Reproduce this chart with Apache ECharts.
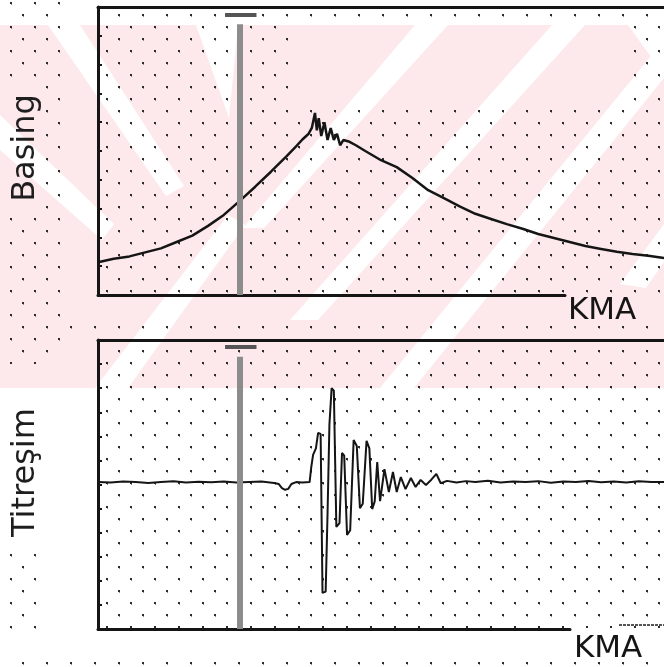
<!DOCTYPE html>
<html>
<head>
<meta charset="utf-8">
<script src="https://cdn.jsdelivr.net/npm/echarts@6/dist/echarts.min.js"></script>
<style>
  html, body { margin: 0; padding: 0; background: #ffffff; }
  #chart { width: 664px; height: 667px; }
</style>
</head>
<body>
<div id="chart"></div>
<script>
// Crank angle (KMA, degrees) and cylinder pressure (bar)
const pressureKMA = [-60, -55, -50, -45, -40, -35, -30, -25, -20, -15, -10, -5, 0, 3, 5, 7, 8, 9, 9.6, 10.2,
  11, 12, 13, 14, 15, 16, 17, 18, 20, 22, 25, 30, 35, 40, 45, 50, 55, 60, 65, 70,
  75, 80, 85, 90, 95, 100, 105, 110, 115, 120];
const pressureBar = [5.7, 6.3, 6.7, 7.4, 8.1, 9.2, 10.3, 12.0, 13.9, 16.3, 18.8, 21.4, 24.1, 25.8, 27.0, 28.0, 29.0, 31.6, 28.6, 30.7,
  27.6, 30.0, 26.9, 29.0, 26.9, 28.0, 26.0, 26.9, 26.6, 26.0, 25.0, 23.4, 22.2, 20.3, 18.2, 16.8, 15.4, 14.1, 13.2, 12.3,
  11.5, 10.6, 9.9, 9.2, 8.5, 8.0, 7.5, 7.1, 6.8, 6.4];

// Crank angle (KMA, degrees) and vibration signal
const vibKMA = [-60, -56, -52, -48, -44, -40, -36, -32, -28, -24, -20, -16, -12, -8, -4, -2.5, -1.5, -0.5, 0.5, 1.5,
  3, 5, 7.3, 7.8, 8.4, 9.3, 10.0, 10.8, 11.4, 12.4, 13.0, 13.6, 14.3, 15.0, 15.8, 16.8, 17.6, 18.3, 19.2, 20.2,
  21.3, 22.3, 23.3, 24.2, 25.4, 26.3, 27.2, 28.0, 28.8, 29.7, 31.1, 32.5, 33.8, 35.0, 36.3, 37.8, 39.5, 41.0, 42.6, 44.3,
  46.0, 47.6, 49.0, 51, 54, 57, 60, 64, 68, 72, 76, 80, 84, 88, 92, 96, 100, 104, 108, 112, 116, 120];
const vibAmp = [0.1, 0.08, 0.12, 0.1, 0.06, 0.1, 0.13, 0.08, 0.11, 0.09, 0.12, 0.08, 0.1, 0.12, 0.06, 0.02, -0.15, -0.22, -0.18, 0.02,
  0.1, 0.08, 0.1, 0.7, 1.23, 1.5, 2.14, 2.1, -4.5, -4.45, -1.2, 2.5, 4.0, 3.9, -1.76, -1.6, 1.31, 1.2, -2.1, -1.9,
  1.85, 1.6, -0.98, -0.8, 1.81, 1.5, -1.02, -0.7, 0.93, -0.69, 0.64, -0.31, 0.52, -0.31, 0.31, -0.19, 0.27, -0.1, 0.19, -0.02,
  0.2, 0.44, 0.05, 0.15, 0.08, 0.14, 0.1, 0.16, 0.08, 0.12, 0.1, 0.14, 0.07, 0.12, 0.1, 0.15, 0.09, 0.12, 0.08, 0.13, 0.1, 0.1];

// Axis ranges
const kmaRange = [-60, 120];
const basingRange = [0, 50, 5];
const titresimRange = [-6, 6, 1];

// Cursor position and the small marker bars above it
const cursorKMA = -15;
const cursorTop = { basing: [47, 48.6], titresim: [5.3, 5.71] };
const markerKMA = [-19.6, -9.6];

const zip = (xs, ys) => xs.map((x, i) => [x, ys[i]]);

// Small dotted screen used behind the plots
function dotTile() {
  const c = document.createElement('canvas');
  c.width = 24; c.height = 24;
  const g = c.getContext('2d');
  g.fillStyle = '#2b2b2b';
  g.fillRect(10, 2, 2, 2);
  g.fillRect(22, 14, 2, 2);
  g.fillStyle = '#8a8a8a';
  g.fillRect(11, 4, 1, 1);
  g.fillRect(23, 16, 1, 1);
  return c;
}
const tile = dotTile();
const dots = (x, y, w, h) => ({
  type: 'rect', silent: true, z: -1,
  shape: { x, y, width: w, height: h },
  style: { fill: { image: tile, repeat: 'repeat' } }
});

// Light pink diagonal stripes in the background
const PINK = '#fde9ec';
const stripe = pts => ({ type: 'polygon', silent: true, z: -2, shape: { points: pts }, style: { fill: '#ffffff' } });
const watermark = [
  { type: 'rect', silent: true, z: -3, shape: { x: 0, y: 25, width: 664, height: 363 }, style: { fill: PINK } },
  stripe([[48, 25], [80, 25], [184, 186], [166, 196]]),
  stripe([[0, 115], [0, 150], [102, 240], [114, 224]]),
  stripe([[196, 25], [238, 25], [229, 118]]),
  stripe([[415, 25], [448, 25], [264, 228], [243, 228]]),
  stripe([[552, 25], [585, 25], [318, 320], [290, 320]]),
  stripe([[380, 388], [414, 388], [664, 78], [664, 40]]),
  stripe([[628, 25], [664, 25], [664, 75]]),
  stripe([[620, 284], [664, 224], [664, 262], [646, 288]]),
  stripe([[95, 388], [128, 388], [245, 225], [228, 215]])
];

const dotAreas = [
  dots(98, 10, 194, 285),
  dots(292, 10, 372, 12),
  dots(292, 108, 372, 187),
  dots(630, 22, 34, 86),
  dots(98, 342, 566, 286),
  dots(0, 0, 62, 82),
  dots(44, 82, 18, 133),
  dots(0, 215, 62, 130),
  dots(0, 334, 50, 30),
  dots(0, 550, 45, 80),
  dots(62, 322, 602, 12),
  dots(0, 658, 664, 9)
];

const INK = '#151515';
const GREY = '#8c8c8c';
const FONT = 'DejaVu Sans';

const frameLine = { show: true, onZero: false, lineStyle: { color: INK, width: 3 } };
const hiddenAxis = (gridIndex, range) => ({
  gridIndex, type: 'value', min: range[0], max: range[1], show: false
});

const cursorLines = (range, top) => ({
  silent: true,
  symbol: ['none', 'none'],
  label: { show: false },
  animation: false,
  data: [
    [{ coord: [cursorKMA, top[0]], lineStyle: { color: GREY, width: 6, type: 'solid' } },
     { coord: [cursorKMA, range[0]] }],
    [{ coord: [markerKMA[0], top[1]], lineStyle: { color: '#555555', width: 4, type: 'solid' } },
     { coord: [markerKMA[1], top[1]] }]
  ]
});

const kmaName = (gap, pad) => ({
  name: 'KMA', nameLocation: 'end', nameGap: gap,
  nameTextStyle: {
    fontFamily: FONT, fontSize: 31, color: INK,
    align: 'left', verticalAlign: 'top', lineHeight: 31, padding: [pad, 0, 0, 0]
  }
});

const chart = echarts.init(document.getElementById('chart'), null, { renderer: 'canvas' });

chart.setOption({
  backgroundColor: '#ffffff',
  animation: false,
  graphic: watermark.concat(dotAreas, [
    { type: 'line', silent: true, z: 1, shape: { x1: 619, y1: 625, x2: 664, y2: 625 },
      style: { stroke: '#555555', lineWidth: 2, lineDash: [3, 1] } }
  ]),
  grid: [
    { left: 98, top: 7, width: 572, height: 288 },
    { left: 98, top: 340, width: 572, height: 289 },
    { left: 98, top: 7, width: 467, height: 288 },
    { left: 98, top: 340, width: 472, height: 289 }
  ],
  xAxis: [
    { gridIndex: 0, type: 'value', min: kmaRange[0], max: kmaRange[1], position: 'top',
      axisLine: frameLine, axisTick: { show: false }, axisLabel: { show: false }, splitLine: { show: false } },
    { gridIndex: 1, type: 'value', min: kmaRange[0], max: kmaRange[1], position: 'top',
      axisLine: frameLine, axisTick: { show: false }, axisLabel: { show: false }, splitLine: { show: false } },
    Object.assign({ gridIndex: 2, type: 'value', min: 0, max: 1, position: 'bottom',
      axisLine: frameLine, axisTick: { show: false }, axisLabel: { show: false }, splitLine: { show: false } },
      kmaName(3, 0)),
    Object.assign({ gridIndex: 3, type: 'value', min: 0, max: 1, position: 'bottom',
      axisLine: frameLine, axisTick: { show: false }, axisLabel: { show: false }, splitLine: { show: false } },
      kmaName(4, 4))
  ],
  yAxis: [
    { gridIndex: 0, type: 'value', min: basingRange[0], max: basingRange[1], interval: basingRange[2],
      axisLine: frameLine, axisTick: { show: true, inside: true, length: 4, lineStyle: { color: INK, width: 2 } },
      axisLabel: { show: false }, splitLine: { show: false },
      name: 'Basing', nameLocation: 'middle', nameRotate: 90, nameGap: 56,
      nameTextStyle: { fontFamily: FONT, fontSize: 32, color: '#1e1e1e', padding: [0, 0, 0, 6] } },
    { gridIndex: 1, type: 'value', min: titresimRange[0], max: titresimRange[1], interval: titresimRange[2],
      axisLine: frameLine, axisTick: { show: true, inside: true, length: 4, lineStyle: { color: INK, width: 2 } },
      axisLabel: { show: false }, splitLine: { show: false },
      name: 'Titreşim', nameLocation: 'middle', nameRotate: 90, nameGap: 56,
      nameTextStyle: { fontFamily: FONT, fontSize: 32, color: '#1e1e1e', padding: [0, 0, 0, 24] } },
    hiddenAxis(2, [0, 1]),
    hiddenAxis(3, [0, 1])
  ],
  series: [
    {
      name: 'Basing', type: 'line', xAxisIndex: 0, yAxisIndex: 0,
      data: zip(pressureKMA, pressureBar),
      showSymbol: false, smooth: false, z: 3,
      lineStyle: { color: INK, width: 2.5 },
      markLine: cursorLines(basingRange, cursorTop.basing)
    },
    {
      name: 'Titreşim', type: 'line', xAxisIndex: 1, yAxisIndex: 1,
      data: zip(vibKMA, vibAmp),
      showSymbol: false, smooth: false, z: 3,
      lineStyle: { color: INK, width: 2 },
      markLine: cursorLines(titresimRange, cursorTop.titresim)
    }
  ]
});
</script>
</body>
</html>
